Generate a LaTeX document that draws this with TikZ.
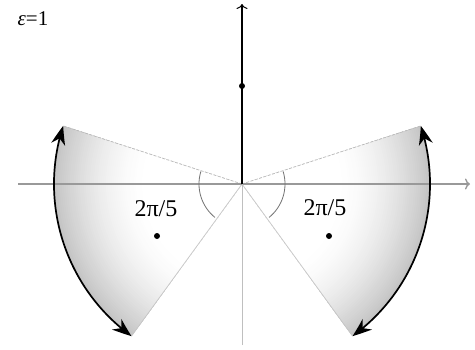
\documentclass[tikz,border=0pt]{standalone}
\usepackage{fontspec}
\setmainfont{Liberation Serif}
\usetikzlibrary{arrows.meta,bending}
\begin{document}
\begin{tikzpicture}[x=1pt,y=1pt,
  axisline/.style={gray!80, line width=1.4pt},
  edgeup/.style={gray!55, line width=0.7pt, dash pattern=on 3pt off 1.5pt},
  edgedown/.style={gray!45, line width=0.7pt},
  bigarc/.style={black, line width=1.7pt, {Stealth[length=19pt,width=14pt,inset=6pt,bend]}-{Stealth[length=19pt,width=14pt,inset=6pt,bend]}},
  anglearc/.style={gray!90!black, line width=0.8pt},
  dotnode/.style={circle, fill=black, inner sep=0pt, minimum size=6pt},
  lbl/.style={font=\fontsize{24}{24}\selectfont, inner sep=0pt}]
\useasboundingbox (0,-349) rectangle (475,0);
\coordinate (O) at (242,-184);
\coordinate (xl) at (18,-184);
\coordinate (xr) at (470,-184);
\coordinate (yb) at (242,-345);
\coordinate (yt) at (242,-4);
\coordinate (LA) at ([shift={(242,-184)}]162:188);
\coordinate (LB) at ([shift={(242,-184)}]234:188);
\coordinate (RA) at ([shift={(242,-184)}]18:188);
\coordinate (RB) at ([shift={(242,-184)}]-54:188);
% shaded sectors (manual radial gradient)
\foreach \i in {0,...,46} {
  \pgfmathsetmacro\rr{188-2*\i}
  \pgfmathsetmacro\pp{46*((\rr-96)/92)^1.7}
  \fill[gray!\pp] (O) -- +(162:\rr) arc[start angle=162, end angle=234, radius=\rr] -- cycle;
  \fill[gray!\pp] (O) -- +(-54:\rr) arc[start angle=-54, end angle=18, radius=\rr] -- cycle;
}
% sector edges
\draw[edgeup] (O) -- (LA);
\draw[edgeup] (O) -- (RA);
\draw[edgedown] (O) -- (LB);
\draw[edgedown] (O) -- (RB);
% axes
\draw[axisline, -{To[length=5pt,width=11pt]}] (xl) -- (xr);
\draw[gray!50, line width=0.8pt] (yb) -- (O);
\draw[black, line width=2.4pt, -{To[length=5pt,width=11pt,line width=1pt]}] (O) -- (yt);
% angle arcs
\draw[anglearc] ([shift={(242,-184)}]163:43) arc[start angle=163, end angle=231, radius=43];
\draw[anglearc] ([shift={(242,-184)}]17:43) arc[start angle=17, end angle=-51, radius=43];
% big arcs
\draw[bigarc] (LA) arc[start angle=162, end angle=234, radius=188];
\draw[bigarc] (RA) arc[start angle=18, end angle=-54, radius=188];
% dots
\node[dotnode] (p0) at (242,-86) {};
\node[dotnode] (p1) at (157,-236) {};
\node[dotnode] (p2) at (329,-236) {};
% labels
\node[lbl] (l1) at (156,-209) {2π/5};
\node[lbl] (l2) at (325,-208) {2π/5};
\node[font=\fontsize{21}{21}\selectfont, inner sep=0pt] (eps) at (33,-19) {\itshape ε\upshape =1};
\end{tikzpicture}
\end{document}
